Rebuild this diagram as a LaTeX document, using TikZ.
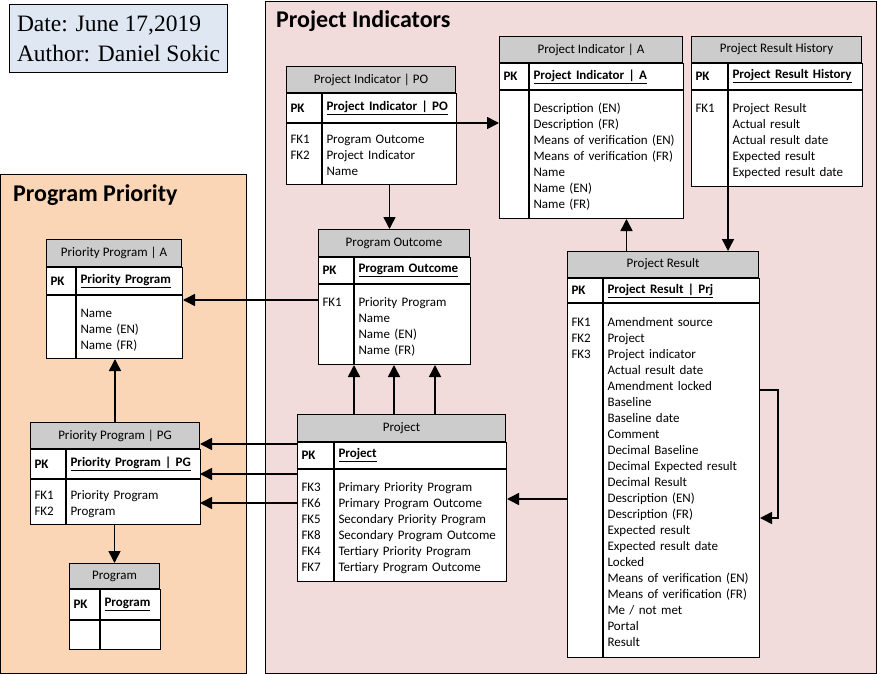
\documentclass[tikz,border=0pt]{standalone}
\usepackage{fontspec}
\setmainfont{Carlito}
\newfontfamily\datefont{Liberation Serif}
\usepackage{tikz}
\usetikzlibrary{arrows.meta,calc}
\definecolor{headgray}{RGB}{204,204,204}
\definecolor{priofill}{RGB}{250,214,183}
\definecolor{indfill}{RGB}{241,219,219}
\definecolor{datefill}{RGB}{222,231,242}
\newcommand{\erfont}{\fontsize{13}{16}\selectfont}
\tikzstyle{head} = [draw, line width=1pt, fill=headgray, anchor=north west, inner sep=0pt, font=\erfont]
\tikzstyle{keycell} = [draw, line width=1pt, fill=white, anchor=north west, inner xsep=4pt, inner ysep=0pt, align=left, font=\erfont\bfseries]
\tikzstyle{bodycell} = [draw, line width=1pt, fill=white, anchor=north west, inner xsep=4pt, inner ysep=0pt, align=left, text height=22pt, font=\erfont]
\tikzstyle{title} = [anchor=base west, inner sep=0pt, font=\fontsize{24}{28}\selectfont\bfseries]
\tikzstyle{datebox} = [draw, line width=1pt, fill=datefill, anchor=north west, minimum height=68pt, minimum width=218pt, inner sep=0pt, align=left, font=\datefont\fontsize{23.5}{30}\selectfont]
\tikzstyle{line} = [draw, line width=1.5pt, -{Triangle[length=12pt,width=12pt]}]

\begin{document}
\begin{tikzpicture}[x=1pt, y=-1pt]
	\useasboundingbox (0,0) rectangle (878,674);
	%% regions
	\draw[line width=1pt, fill=priofill] (0,174) rectangle (246,673);
	\draw[line width=1pt, fill=indfill] (265,2) rectangle (876,673);
	\node[title] (prio-title) at (13,201) {Program Priority};
	\node[title] (ind-title) at (276,28) {Project Indicators};
	%% date
	\node[datebox] (date) at (9,4) {Date: June 17,2019\\Author: Daniel Sokic};
	%% Project Indicator | PO
	\node[head, minimum width=169pt, minimum height=26pt] (pipo) at (286,66) {Project Indicator | PO};
	\node[keycell, text width=27pt, minimum height=29pt] (pipo-pk) at (pipo.south west) {PK};
	\node[keycell, text width=126pt, minimum height=29pt] (pipo-key) at (pipo-pk.north east) {\underline{Project Indicator | PO}};
	\node[bodycell, text width=27pt, text height=20pt, text depth=41pt] (pipo-fk) at (pipo-pk.south west) {FK1\\FK2};
	\node[bodycell, text width=126pt, text height=20pt, text depth=41pt] (pipo-fb) at (pipo-fk.north east) {Program Outcome\\Project Indicator\\Name};
	%% Project Indicator | A
	\node[head, minimum width=183pt, minimum height=26pt] (pia) at (499,36) {Project Indicator | A};
	\node[keycell, text width=21pt, minimum height=26pt] (pia-pk) at (pia.south west) {PK};
	\node[keycell, text width=146pt, minimum height=26pt] (pia-key) at (pia-pk.north east) {\underline{Project Indicator | A}};
	\node[bodycell, text width=21pt, text depth=106pt] (pia-fk) at (pia-pk.south west) {};
	\node[bodycell, text width=146pt, text depth=106pt] (pia-fb) at (pia-fk.north east) {Description (EN)\\Description (FR)\\Means of verification (EN)\\Means of verification (FR)\\Name\\Name (EN)\\Name (FR)};
	%% Project Result History
	\node[head, minimum width=170pt, minimum height=26pt] (prh) at (691,36) {Project Result History};
	\node[keycell, text width=28pt, minimum height=26pt] (prh-pk) at (prh.south west) {PK};
	\node[keycell, text width=126pt, minimum height=26pt] (prh-key) at (prh-pk.north east) {\underline{Project Result History}};
	\node[bodycell, text width=28pt, text depth=74pt] (prh-fk) at (prh-pk.south west) {FK1};
	\node[bodycell, text width=126pt, text depth=74pt] (prh-fb) at (prh-fk.north east) {Project Result\\Actual result\\Actual result date\\Expected result\\Expected result date};
	%% Program Outcome
	\node[head, minimum width=151pt, minimum height=27pt] (po) at (318,229) {Program Outcome};
	\node[keycell, text width=27pt, minimum height=26pt] (po-pk) at (po.south west) {PK};
	\node[keycell, text width=108pt, minimum height=26pt] (po-key) at (po-pk.north east) {\underline{Program Outcome}};
	\node[bodycell, text width=27pt, text depth=58pt] (po-fk) at (po-pk.south west) {FK1};
	\node[bodycell, text width=108pt, text depth=58pt] (po-fb) at (po-fk.north east) {Priority Program\\Name\\Name (EN)\\Name (FR)};
	%% Priority Program | A
	\node[head, minimum width=135pt, minimum height=27pt] (ppa) at (46,239) {Priority Program | A};
	\node[keycell, text width=21pt, minimum height=27pt] (ppa-pk) at (ppa.south west) {PK};
	\node[keycell, text width=98pt, minimum height=27pt] (ppa-key) at (ppa-pk.north east) {\underline{Priority Program}};
	\node[bodycell, text width=21pt, text depth=41pt] (ppa-fk) at (ppa-pk.south west) {};
	\node[bodycell, text width=98pt, text depth=41pt] (ppa-fb) at (ppa-fk.north east) {Name\\Name (EN)\\Name (FR)};
	%% Priority Program | PG
	\node[head, minimum width=169pt, minimum height=26pt] (pppg) at (30,422) {Priority Program | PG};
	\node[keycell, text width=27pt, minimum height=29pt] (pppg-pk) at (pppg.south west) {PK};
	\node[keycell, text width=126pt, minimum height=29pt] (pppg-key) at (pppg-pk.north east) {\underline{Priority Program | PG}};
	\node[bodycell, text width=27pt, text height=20pt, text depth=25pt] (pppg-fk) at (pppg-pk.south west) {FK1\\FK2};
	\node[bodycell, text width=126pt, text height=20pt, text depth=25pt] (pppg-fb) at (pppg-fk.north east) {Priority Program\\Program};
	%% Program
	\node[head, minimum width=90pt, minimum height=25pt] (prog) at (69,563) {Program};
	\node[keycell, text width=22pt, minimum height=30pt] (prog-pk) at (prog.south west) {PK};
	\node[keycell, text width=52pt, minimum height=30pt] (prog-key) at (prog-pk.north east) {\underline{Program}};
	\node[bodycell, text width=22pt, text depth=7pt] (prog-fk) at (prog-pk.south west) {};
	\node[bodycell, text width=52pt, text depth=7pt] (prog-fb) at (prog-fk.north east) {};
	%% Project
	\node[head, minimum width=208pt, minimum height=27pt] (proj) at (297,414) {Project};
	\node[keycell, text width=28pt, minimum height=26pt] (proj-pk) at (proj.south west) {PK};
	\node[keycell, text width=164pt, minimum height=26pt] (proj-key) at (proj-pk.north east) {\underline{Project}};
	\node[bodycell, text width=28pt, text depth=90pt] (proj-fk) at (proj-pk.south west) {FK3\\FK6\\FK5\\FK8\\FK4\\FK7};
	\node[bodycell, text width=164pt, text depth=90pt] (proj-fb) at (proj-fk.north east) {Primary Priority Program\\Primary Program Outcome\\Secondary Priority Program\\Secondary Program Outcome\\Tertiary Priority Program\\Tertiary Program Outcome};
	%% Project Result
	\node[head, minimum width=191pt, minimum height=26pt] (pr) at (567,251) {Project Result};
	\node[keycell, text width=27pt, minimum height=24pt] (pr-pk) at (pr.south west) {PK};
	\node[keycell, text width=148pt, minimum height=24pt] (pr-key) at (pr-pk.north east) {\underline{Project Result | Prj}};
	\node[bodycell, text width=27pt, text height=23pt, text depth=331pt] (pr-fk) at (pr-pk.south west) {FK1\\FK2\\FK3};
	\node[bodycell, text width=148pt, text height=23pt, text depth=331pt] (pr-fb) at (pr-fk.north east) {Amendment source\\Project\\Project indicator\\Actual result date\\Amendment locked\\Baseline\\Baseline date\\Comment\\Decimal Baseline\\Decimal Expected result\\Decimal Result\\Description (EN)\\Description (FR)\\Expected result\\Expected result date\\Locked\\Means of verification (EN)\\Means of verification (FR)\\Me / not met\\Portal\\Result};
	%% edges
	\path[line] (pipo-key.south east) -- (pipo-key.south east -| pia-fk.west);
	\path[line] (pipo-fb.south) -- (pipo-fb.south |- po.north);
	\coordinate (po-out) at ([yshift=-16pt]po-fk.north west);
	\path[line] (po-out) -- (po-out -| ppa-fb.east);
	\foreach \dx in {-40,0,41}
		\path[line] ($(po.south |- proj.north)+(\dx,0)$) -- ($(po.south |- po-fk.south)+(\dx,0)$);
	\path[line] (pppg.north) -- (pppg.north |- ppa-fk.south);
	\path[line] (prog.north |- pppg-fk.south) -- (prog.north);
	\coordinate (pj1) at ([yshift=-2pt]proj.south west);
	\coordinate (pj2) at ([yshift=-5pt]proj-pk.south west);
	\coordinate (pj3) at ([yshift=-34pt]proj-fk.north west);
	\foreach \c in {pj1,pj2,pj3}
		\path[line] (\c) -- (\c -| pppg.east);
	\coordinate (pr-up) at ([xshift=20pt]pia-fb.south);
	\path[line] (pr-up |- pr.north) -- (pr-up);
	\path[line] (prh-fk.south east) -- (prh-fk.south east |- pr.north);
	\coordinate (pr-out) at ([yshift=-30pt]proj-fb.north east);
	\path[line] (pr-out -| pr-fk.west) -- (pr-out);
	\path[line] ([yshift=-87pt]pr-fb.north east) -- ++(18,0) |- ([yshift=-215pt]pr-fb.north east);
\end{tikzpicture}
\end{document}
